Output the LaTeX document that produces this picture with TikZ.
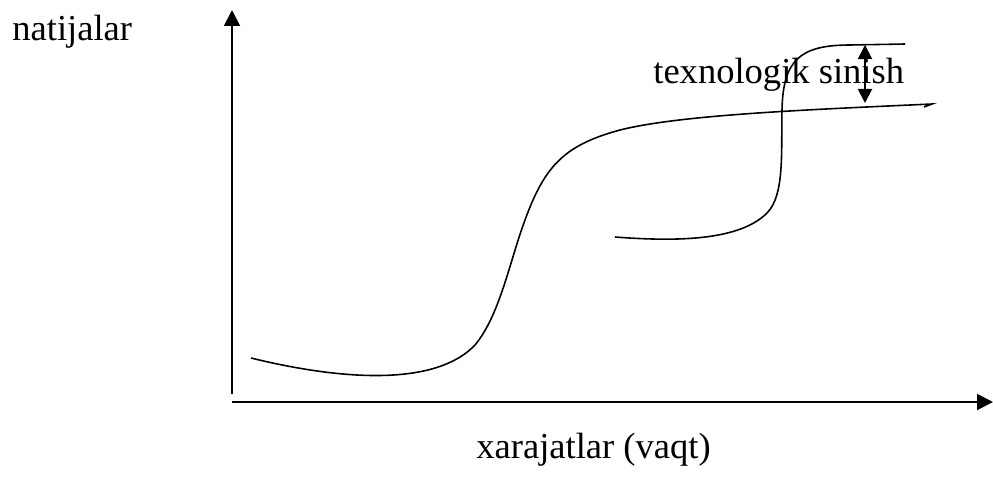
\documentclass[tikz,border=0pt]{standalone}
\usepackage{fontspec}
\setmainfont{Liberation Serif}
\usetikzlibrary{arrows.meta}

\begin{document}
\begin{tikzpicture}
[
	x=0.02cm, y=-0.02cm,
	axis/.style={line width=1.1pt,-{Triangle[length=9pt,width=9pt]}},
	curve/.style={line width=0.9pt},
	lbl/.style={font=\fontsize{20.8}{25}\selectfont,inner sep=0pt,anchor=base west}
]
	\useasboundingbox (0,0) rectangle (993,477);

	% axes
	\coordinate (origin) at (232,402);
	\coordinate (ytop) at (232,10);
	\coordinate (ybot) at (232,394);
	\coordinate (xend) at (993,402);
	\draw[axis] (ybot) -- (ytop);
	\draw[axis] (origin) -- (xend);

	% labels
	\node[lbl] (ylabel) at (12,40) {natijalar};
	\node[lbl] (xlabel) at (476,458) {xarajatlar (vaqt)};

	% first s-curve
	\draw[curve] (251,358) .. controls (320,375) and (430,392) .. (475,345)
		.. controls (500,315) and (510,260) .. (525,220)
		.. controls (545,165) and (565,145) .. (620,130)
		.. controls (680,115) and (800,110) .. (932,104) -- (924,107);

	% second s-curve
	\draw[curve] (615,237) .. controls (680,242) and (740,240) .. (767,213)
		.. controls (785,195) and (781,150) .. (782,110)
		.. controls (783,60) and (800,45) .. (850,45) -- (905,44);

	\node[lbl] (shift) at (653,83) {texnologik sinish};

	% shift arrow
	\coordinate (sh1) at (865,45);
	\coordinate (sh2) at (865,103);
	\draw[line width=1.1pt,{Triangle[length=8pt,width=8pt]}-{Triangle[length=8pt,width=8pt]}] (sh1) -- (sh2);

\end{tikzpicture}
\end{document}
